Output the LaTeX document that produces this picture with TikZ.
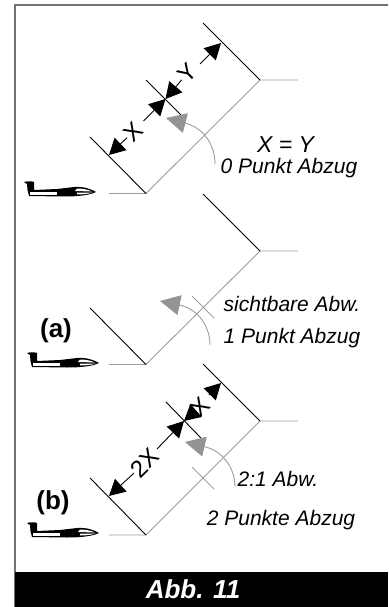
\documentclass[tikz,border=0pt]{standalone}
\usepackage{fontspec}
\setmainfont{Liberation Sans}
\usetikzlibrary{arrows.meta}
\tikzset{
 x=1pt,y=-1pt,
 frameline/.style={draw=black!55,line width=1.6pt},
 blackline/.style={draw=black,line width=0.9pt},
 grayline/.style={draw=black!38,line width=0.9pt},
 dim/.style={draw=black,line width=0.9pt},
 dimtip/.style={-{Triangle[length=16pt,width=17pt]}},
 grayarrow/.style={draw=black!38,line width=0.9pt,-{Triangle[length=20pt,width=20pt,color=black!42]}},
 lab/.style={font=\fontsize{21}{25}\selectfont\itshape,inner sep=0pt,anchor=base},
 biglab/.style={font=\fontsize{23}{25}\selectfont\itshape,inner sep=0pt,anchor=base},
 dimlab/.style={font=\fontsize{24}{26}\selectfont,rotate=45,fill=white,inner sep=0pt},
 head/.style={font=\fontsize{26}{30}\selectfont\bfseries,inner sep=0pt,anchor=base},
 caption/.style={font=\fontsize{26}{30}\selectfont\bfseries\itshape,text=white,inner sep=0pt,anchor=base},
 glider/.pic={
  \fill[black] (0,1) .. controls (3,0) and (8,0) .. (10,1) -- (10,9) -- (33,8) -- (50,6)
    .. controls (60,5.5) and (66,7.5) .. (72,11)
    .. controls (66,14) and (55,15.5) .. (40,15.5) -- (5,15) -- (3.5,9) -- (3,3) -- cycle;
  \fill[white] (6,11) -- (33,11) -- (33,13.5) -- (6,13.5) -- cycle;
  \fill[white] (53,7.5) .. controls (60,7.5) and (65,9) .. (68,10.5) -- (51,10) -- cycle;
  \fill[white] (53,11.5) -- (69,11.5) .. controls (64,13) and (58,13.5) .. (53,13.5) -- cycle;
 }
}
\begin{document}
\begin{tikzpicture}
\useasboundingbox (0,0) rectangle (388,607);
\fill[white] (0,0) rectangle (388,607);
\draw[frameline] (388,5) -- (15,5) -- (15,607);
\fill[black] (15,572) rectangle (388,607);
\node[caption] (cap) at (193,598) {Abb. 11};

% panel 1
\coordinate (a0) at (109,193.5); \coordinate (a1) at (146,193.5);
\coordinate (a2) at (260,80); \coordinate (a3) at (298,80);
\coordinate (a4) at (90,137); \coordinate (a5) at (203,23);
\coordinate (a6) at (146,80); \coordinate (a7) at (181,115);
\draw[grayline] (a0) -- (a1) -- (a2) -- (a3);
\draw[blackline] (a4) -- (a1);
\draw[blackline] (a5) -- (a2);
\draw[blackline] (a6) -- (a7);
\coordinate (am) at (165.5,99);
\coordinate (at1) at (109,155); \coordinate (at2) at (221,43);
\node[dimlab] (lx) at (133,132) {X};
\node[dimlab] (ly) at (187,73.5) {Y};
\coordinate (as2) at (143.5,121);
\coordinate (as4) at (200,64);
\draw[dim,dimtip] (lx) -- (at1);
\draw[dim,dimtip] (as2) -- (am);
\draw[dim,dimtip] (ly) -- (am);
\draw[dim,dimtip] (as4) -- (at2);
\coordinate (g1s) at (215,164); \coordinate (g1e) at (166,118);
\draw[grayarrow] (g1s) .. controls (215,145) and (204,128) .. (g1e);
\node[biglab] (t1) at (285.5,152) {X = Y};
\node[lab] (t2) at (289,173) {0 Punkt Abzug};
\pic at (24,181) {glider};

% panel 2
\coordinate (b0) at (109,364.5); \coordinate (b1) at (146,364.5);
\coordinate (b2) at (260,251); \coordinate (b3) at (298,251);
\coordinate (b4) at (90,308); \coordinate (b5) at (203,194);
\coordinate (b6) at (192,296); \coordinate (b7) at (214,318);
\draw[grayline] (b0) -- (b1) -- (b2) -- (b3);
\draw[blackline] (b4) -- (b1);
\draw[blackline] (b5) -- (b2);
\draw[grayline] (b6) -- (b7);
\coordinate (g2s) at (210,345); \coordinate (g2e) at (160,301);
\draw[grayarrow] (g2s) .. controls (210,326) and (198,309) .. (g2e);
\node[lab] (t3) at (292,311) {sichtbare Abw.};
\node[lab] (t4) at (292,343) {1 Punkt Abzug};
\node[head] (la) at (56,337) {(a)};
\pic at (27,352) {glider};

% panel 3
\coordinate (c0) at (109,535); \coordinate (c1) at (146,535);
\coordinate (c2) at (260,421); \coordinate (c3) at (298,421);
\coordinate (c4) at (90,478); \coordinate (c5) at (203,364);
\coordinate (c6) at (166,402); \coordinate (c7) at (201,438);
\coordinate (c8) at (192,467); \coordinate (c9) at (214,489);
\draw[grayline] (c0) -- (c1) -- (c2) -- (c3);
\draw[blackline] (c4) -- (c1);
\draw[blackline] (c5) -- (c2);
\draw[blackline] (c6) -- (c7);
\draw[grayline] (c8) -- (c9);
\coordinate (cm) at (184,421);
\coordinate (ct1) at (109,496); \coordinate (ct2) at (221,383);
\node[dimlab] (l2x) at (145,463) {2X};
\node[dimlab] (lx2) at (200,407) {X};
\coordinate (cs2) at (157,449);
\coordinate (cs4) at (209,395);
\draw[dim,dimtip] (l2x) -- (ct1);
\draw[dim,dimtip] (cs2) -- (cm);
\draw[dim,dimtip] (lx2) -- (cm);
\draw[dim,dimtip] (cs4) -- (ct2);
\coordinate (g3s) at (235,487); \coordinate (g3e) at (185,442);
\draw[grayarrow] (g3s) .. controls (235,468) and (223,451) .. (g3e);
\node[lab] (t5) at (278,486) {2:1 Abw.};
\node[lab] (t6) at (281,525) {2 Punkte Abzug};
\node[head] (lb) at (53,509) {(b)};
\pic at (27,522) {glider};
\end{tikzpicture}
\end{document}
